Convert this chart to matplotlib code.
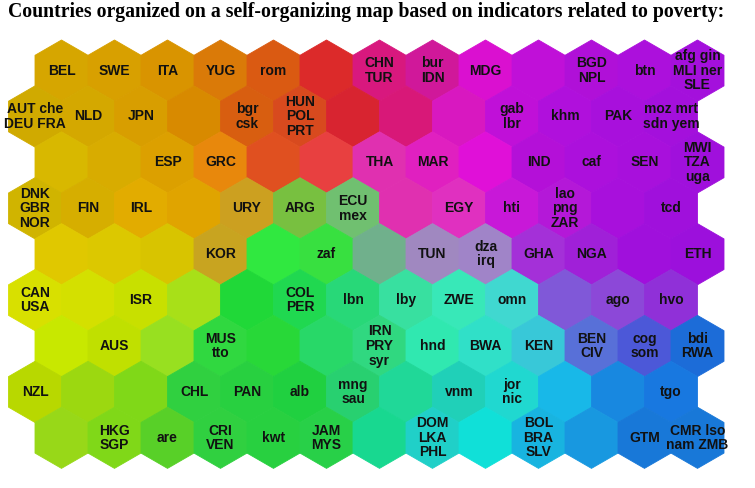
import numpy as np
import matplotlib
matplotlib.use('Agg')
import matplotlib.pyplot as plt
from matplotlib.patches import RegularPolygon

title = "Countries organized on a self-organizing map based on indicators related to poverty:"

# 9 rows x 13 columns of map units (even rows are shifted right by half a cell)
row0_colors = ['#D6A600', '#D8A000', '#D99400', '#DA7A08', '#DA5A12', '#DC2A2A', '#D8187E',
               '#D0189A', '#DA10D0', '#C010D8', '#B010D8', '#AC10DC', '#A410DC']
row1_colors = ['#D0AA00', '#D4A800', '#D89E00', '#D88A00', '#D85E10', '#D84A1E', '#D82430',
               '#D81878', '#D818C0', '#C010D8', '#B010DC', '#A810DC', '#A410DC']
row2_colors = ['#D8B800', '#D8AC00', '#DCA000', '#E8880C', '#E05020', '#E84040', '#E030B0',
               '#E020C0', '#E010D8', '#B410D8', '#AC10DC', '#A810DC', '#A010DC']
row3_colors = ['#D0B400', '#D6AE00', '#E2AC00', '#E0A400', '#CCA020', '#78C040', '#70C070',
               '#E030B0', '#E030C0', '#C818D8', '#B418D8', '#A810DC', '#A010DC']
row4_colors = ['#E0C800', '#DCC800', '#D8C400', '#C8A420', '#30E840', '#38E040', '#70B08C',
               '#A088C0', '#A084C8', '#A430D8', '#A020D8', '#A010DC', '#9C10DC']
row5_colors = ['#D8E000', '#D4E000', '#C8E000', '#A8E018', '#20D838', '#20D850', '#28D878',
               '#38E0A0', '#38E8B8', '#40D8D0', '#8058D8', '#8C48D8', '#9030D8']
row6_colors = ['#C8E800', '#C0E000', '#98E020', '#30D840', '#28D838', '#28D868', '#30D880',
               '#30E8B0', '#30E0C8', '#38C8D8', '#5870D8', '#4C58D8', '#1C6CD8']
row7_colors = ['#B8D800', '#9CD810', '#80D818', '#30D040', '#28D040', '#20D040', '#28D070',
               '#20D898', '#20D0B8', '#20D8D0', '#18B8E8', '#1888E0', '#1878E0']
row8_colors = ['#98D818', '#80D818', '#58D028', '#30D040', '#28D040', '#28D048', '#18D890',
               '#20D0C8', '#10E0D8', '#18B4E0', '#1898E0', '#1878D8', '#1878D8']

row0_labels = ['BEL', 'SWE', 'ITA', 'YUG', 'rom', '', 'CHN\nTUR', 'bur\nIDN', 'MDG', '',
               'BGD\nNPL', 'btn', 'afg gin\nMLI ner\nSLE']
row1_labels = ['AUT che\nDEU FRA', 'NLD', 'JPN', '', 'bgr\ncsk', 'HUN\nPOL\nPRT', '', '', '',
               'gab\nlbr', 'khm', 'PAK', 'moz mrt\nsdn yem']
row2_labels = ['', '', 'ESP', 'GRC', '', '', 'THA', 'MAR', '', 'IND', 'caf', 'SEN',
               'MWI\nTZA\nuga']
row3_labels = ['DNK\nGBR\nNOR', 'FIN', 'IRL', '', 'URY', 'ARG', 'ECU\nmex', '', 'EGY', 'hti',
               'lao\npng\nZAR', '', 'tcd']
row4_labels = ['', '', '', 'KOR', '', 'zaf', '', 'TUN', 'dza\nirq', 'GHA', 'NGA', '', 'ETH']
row5_labels = ['CAN\nUSA', '', 'ISR', '', '', 'COL\nPER', 'lbn', 'lby', 'ZWE', 'omn', '',
               'ago', 'hvo']
row6_labels = ['', 'AUS', '', 'MUS\ntto', '', '', 'IRN\nPRY\nsyr', 'hnd', 'BWA', 'KEN',
               'BEN\nCIV', 'cog\nsom', 'bdi\nRWA']
row7_labels = ['NZL', '', '', 'CHL', 'PAN', 'alb', 'mng\nsau', '', 'vnm', 'jor\nnic', '', '',
               'tgo']
row8_labels = ['', 'HKG\nSGP', 'are', 'CRI\nVEN', 'kwt', 'JAM\nMYS', '', 'DOM\nLKA\nPHL', '',
               'BOL\nBRA\nSLV', '', 'GTM', 'CMR lso\nnam ZMB']

colors = [row0_colors, row1_colors, row2_colors, row3_colors, row4_colors,
          row5_colors, row6_colors, row7_colors, row8_colors]
labels = [row0_labels, row1_labels, row2_labels, row3_labels, row4_labels,
          row5_labels, row6_labels, row7_labels, row8_labels]

fig = plt.figure(figsize=(7.55, 4.88), dpi=100)
ax = fig.add_axes([0, 0, 1, 1])

# hex width = 1 unit, 53 px on the page
px = 53.0
R = 1 / np.sqrt(3)
dy = np.sqrt(3) / 2

for r in range(len(colors)):
    for c in range(len(colors[r])):
        x = c + (0.5 if r % 2 == 0 else 0.0)
        y = r * dy
        hexa = RegularPolygon((x, y), numVertices=6, radius=R, orientation=0,
                              facecolor=colors[r][c], edgecolor=colors[r][c], linewidth=0.6)
        ax.add_patch(hexa)
        if labels[r][c]:
            ax.text(x, y, labels[r][c], ha='center', va='center', multialignment='center',
                    fontsize=10, fontweight='bold', family='Liberation Sans',
                    color='#111111', linespacing=1.05)

ax.set_xlim(-35 / px, (755 - 35) / px)
ax.set_ylim((488 - 70.6) / px, -70.6 / px)
ax.set_aspect('equal')
ax.axis('off')

fig.text(8 / 755, 1 - 17 / 488, title, ha='left', va='baseline', fontsize=14.2,
         fontweight='bold', family='Liberation Serif')

plt.savefig('out.png', dpi=100)
